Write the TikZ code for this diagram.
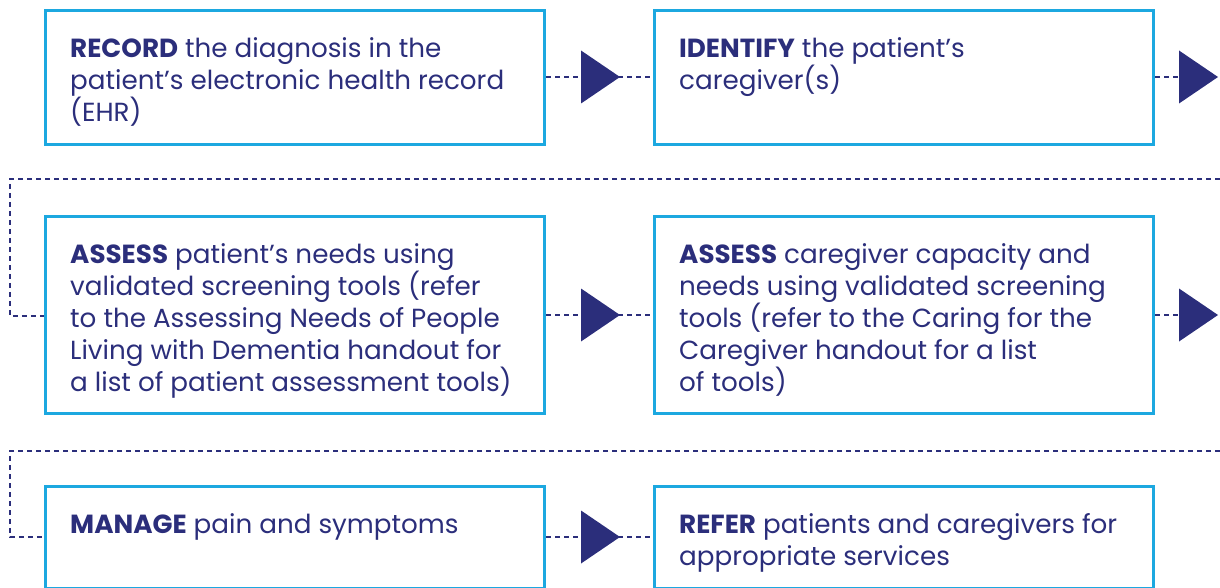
\documentclass[tikz,border=0pt]{standalone}
\usepackage{fontspec}
\setmainfont{Poppins}
\usetikzlibrary{calc}
\definecolor{navy}{HTML}{2B2E7B}
\definecolor{cyanb}{HTML}{1CA8E0}
\tikzset{
  box/.style={draw=cyanb, line width=3pt, minimum width=499pt, minimum height=134pt, anchor=north west, inner sep=0pt},
  txt/.style={anchor=north west, inner sep=0pt, align=left, text=navy, font=\fontsize{26.2}{32}\selectfont},
  dline/.style={draw=navy, line width=1.4pt, dash pattern=on 5pt off 4pt},
  tri/.style={fill=navy}
}
\newcommand{\arrowtri}[1]{\fill[tri] ($(#1)+(-19.5,-26.5)$) -- ($(#1)+(19.5,0)$) -- ($(#1)+(-19.5,26.5)$) -- cycle;}
\begin{document}
\begin{tikzpicture}[x=1pt,y=-1pt]
\useasboundingbox (0,0) rectangle (1220,588);
% boxes
\node[box] (b1) at (44,9) {};
\node[box] (b2) at (653,9) {};
\node[box, minimum height=197pt] (b3) at (44,215) {};
\node[box, minimum height=197pt] (b4) at (653,215) {};
\node[box, minimum height=102pt] (b5) at (44,485) {};
\node[box, minimum height=102pt] (b6) at (653,485) {};
% texts
\node[txt] (t1) at ($(b1.north west)+(26,28)$) {\textbf{RECORD} the diagnosis in the\\patient’s electronic health record\\(EHR)};
\node[txt] (t2) at ($(b2.north west)+(26,28)$) {\textbf{IDENTIFY} the patient’s\\caregiver(s)};
\node[txt] (t3) at ($(b3.north west)+(26,28)$) {\textbf{ASSESS} patient’s needs using\\validated screening tools (refer\\to the Assessing Needs of People\\Living with Dementia handout for\\a list of patient assessment tools)};
\node[txt] (t4) at ($(b4.north west)+(26,28)$) {\textbf{ASSESS} caregiver capacity and\\needs using validated screening\\tools (refer to the Caring for the\\Caregiver handout for a list\\of tools)};
\node[txt] (t5) at ($(b5.north west)+(26,28)$) {\textbf{MANAGE} pain and symptoms};
\node[txt] (t6) at ($(b6.north west)+(26,28)$) {\textbf{REFER} patients and caregivers for\\appropriate services};
% coordinates
\coordinate (l2) at (10,316);
\coordinate (l3) at (10,537);
% connectors row 1
\draw[dline] (b1.east |- 0,77) -- (b2.west |- 0,77);
\arrowtri{600.5,77}
\draw[dline] (b2.east |- 0,77) -- (1179,77);
\arrowtri{1198.5,77}
% loop to row 2
\draw[dline] (1220,179) -- (10,179) -- (l2) -- (b3.west |- l2);
% row 2
\draw[dline] (b3.east |- 0,315) -- (b4.west |- 0,315);
\arrowtri{600.5,315}
\draw[dline] (b4.east |- 0,315) -- (1179,315);
\arrowtri{1198.5,315}
% loop to row 3
\draw[dline] (1220,451) -- (10,451) -- (l3) -- (b5.west |- l3);
% row 3
\draw[dline] (b5.east |- 0,537) -- (b6.west |- 0,537);
\arrowtri{600.5,537}
\end{tikzpicture}
\end{document}
